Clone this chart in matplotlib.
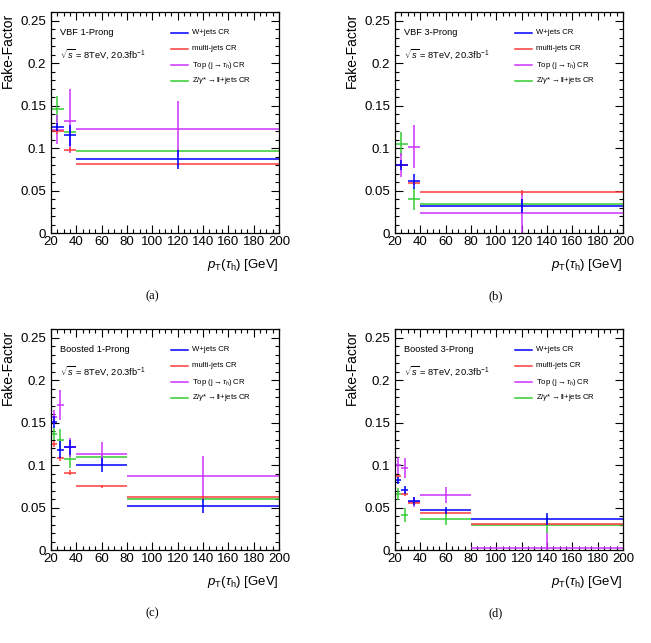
import numpy as np
import matplotlib
matplotlib.use('Agg')
import matplotlib.pyplot as plt
from matplotlib.ticker import MultipleLocator

plt.rcParams['font.family'] = ['Liberation Sans', 'DejaVu Sans']
plt.rcParams['mathtext.fontset'] = 'custom'
plt.rcParams['mathtext.rm'] = 'Liberation Sans'
plt.rcParams['mathtext.it'] = 'Liberation Sans:italic'

# bin edges
vbf_edges = [20, 30, 40, 200]
boost_edges = [20, 25, 30, 40, 80, 200]

series_names = ['W+jets CR', 'multi-jets CR', r'Top (j$\rightarrow\tau_{h}$) CR',
                r'Z/$\gamma$*$\rightarrow$ll+jets CR']
series_colors = ['#0000ff', '#ff3b3b', '#cc33ff', '#33cc33']

# VBF 1-Prong : values, errors (W, multi, top, Z)
vbf1_w = [0.125, 0.115, 0.087]
vbf1_w_err = [0.005, 0.012, 0.011]
vbf1_mj = [0.120, 0.098, 0.081]
vbf1_mj_err = [0.003, 0.003, 0.002]
vbf1_top = [0.122, 0.132, 0.123]
vbf1_top_err = [0.017, 0.038, 0.033]
vbf1_z = [0.146, 0.119, 0.097]
vbf1_z_err = [0.015, 0.005, 0.002]

# VBF 3-Prong
vbf3_w = [0.080, 0.061, 0.032]
vbf3_w_err = [0.006, 0.009, 0.008]
vbf3_mj = [0.080, 0.059, 0.048]
vbf3_mj_err = [0.003, 0.002, 0.003]
vbf3_top = [0.080, 0.102, 0.024]
vbf3_top_err = [0.014, 0.025, 0.024]
vbf3_z = [0.105, 0.040, 0.034]
vbf3_z_err = [0.014, 0.013, 0.002]

# Boosted 1-Prong
b1_w = [0.151, 0.118, 0.121, 0.100, 0.052]
b1_w_err = [0.007, 0.010, 0.009, 0.008, 0.008]
b1_mj = [0.125, 0.108, 0.091, 0.075, 0.062]
b1_mj_err = [0.003, 0.003, 0.003, 0.002, 0.002]
b1_top = [0.157, 0.171, 0.121, 0.113, 0.087]
b1_top_err = [0.008, 0.018, 0.011, 0.014, 0.024]
b1_z = [0.137, 0.130, 0.107, 0.110, 0.060]
b1_z_err = [0.007, 0.013, 0.010, 0.003, 0.003]

# Boosted 3-Prong
b3_w = [0.082, 0.071, 0.058, 0.047, 0.037]
b3_w_err = [0.004, 0.005, 0.005, 0.004, 0.007]
b3_mj = [0.087, 0.066, 0.056, 0.044, 0.031]
b3_mj_err = [0.002, 0.002, 0.002, 0.002, 0.002]
b3_top = [0.100, 0.097, 0.057, 0.065, 0.002]
b3_top_err = [0.010, 0.012, 0.006, 0.009, 0.018]
b3_z = [0.066, 0.041, 0.057, 0.037, 0.030]
b3_z_err = [0.007, 0.008, 0.005, 0.007, 0.010]

panels = [
    ('VBF 1-Prong', vbf_edges, [vbf1_w, vbf1_mj, vbf1_top, vbf1_z],
     [vbf1_w_err, vbf1_mj_err, vbf1_top_err, vbf1_z_err], '(a)'),
    ('VBF 3-Prong', vbf_edges, [vbf3_w, vbf3_mj, vbf3_top, vbf3_z],
     [vbf3_w_err, vbf3_mj_err, vbf3_top_err, vbf3_z_err], '(b)'),
    ('Boosted 1-Prong', boost_edges, [b1_w, b1_mj, b1_top, b1_z],
     [b1_w_err, b1_mj_err, b1_top_err, b1_z_err], '(c)'),
    ('Boosted 3-Prong', boost_edges, [b3_w, b3_mj, b3_top, b3_z],
     [b3_w_err, b3_mj_err, b3_top_err, b3_z_err], '(d)'),
]

fig = plt.figure(figsize=(6.51, 6.43), dpi=100)
lefts = [0.0783, 0.6068, 0.0783, 0.6068]
bottoms = [0.6376, 0.6376, 0.1446, 0.1446]
w, h = 0.3502, 0.3430

for i, (title, edges, vals, errs, cap) in enumerate(panels):
    ax = fig.add_axes([lefts[i], bottoms[i], w, h])
    e = np.array(edges, dtype=float)
    xc = 0.5 * (e[:-1] + e[1:])
    xw = 0.5 * (e[1:] - e[:-1])
    # draw order: Z, top, multi-jets, W on top
    for k in [3, 2, 1, 0]:
        ax.errorbar(xc, vals[k], xerr=xw, yerr=errs[k], fmt='none',
                    ecolor=series_colors[k], elinewidth=1.1, capsize=0)
    ax.set_xlim(20, 200)
    ax.set_ylim(0, 0.26)
    ax.set_xticks(np.arange(20, 201, 20))
    ax.set_yticks([0, 0.05, 0.1, 0.15, 0.2, 0.25])
    ax.set_yticklabels(['0', '0.05', '0.1', '0.15', '0.2', '0.25'])
    ax.xaxis.set_minor_locator(MultipleLocator(5))
    ax.yaxis.set_minor_locator(MultipleLocator(0.01))
    ax.tick_params(which='both', direction='in', top=True, right=True, labelsize=9.5)
    ax.tick_params(which='major', length=6, width=0.8)
    ax.tick_params(which='minor', length=3, width=0.8)
    ax.tick_params(axis='x', pad=2)
    for s in ax.spines.values():
        s.set_linewidth(0.9)
    ax.set_ylabel('Fake-Factor', fontsize=10, ha='right')
    ax.yaxis.set_label_coords(-0.158, 1.0)

    ax.text(0.04, 0.908, title, transform=ax.transAxes, fontsize=6.7, va='center')
    ax.text(0.04, 0.812, r'$\sqrt{s}$ = 8TeV, 20.3fb$^{-1}$', transform=ax.transAxes,
            fontsize=6.7, va='center')
    rows = [0.908, 0.835, 0.761, 0.690]
    for k in range(4):
        ax.plot([0.526, 0.601], [rows[k], rows[k]], transform=ax.transAxes,
                color=series_colors[k], lw=1.1, clip_on=False)
        ax.text(0.618, rows[k], series_names[k], transform=ax.transAxes,
                fontsize=5.6, va='center')

    fig.text(lefts[i] + w, bottoms[i] - 0.049, r'$p_{\mathrm{T}}(\tau_{\mathrm{h}})$ [GeV]',
             ha='right', va='center', fontsize=9.5)
    fig.text(lefts[i] + w / 2 - 0.02, bottoms[i] - 0.098, cap, ha='center', va='center',
             fontsize=9, family='Liberation Serif')

fig.savefig('out.png', dpi=100)
